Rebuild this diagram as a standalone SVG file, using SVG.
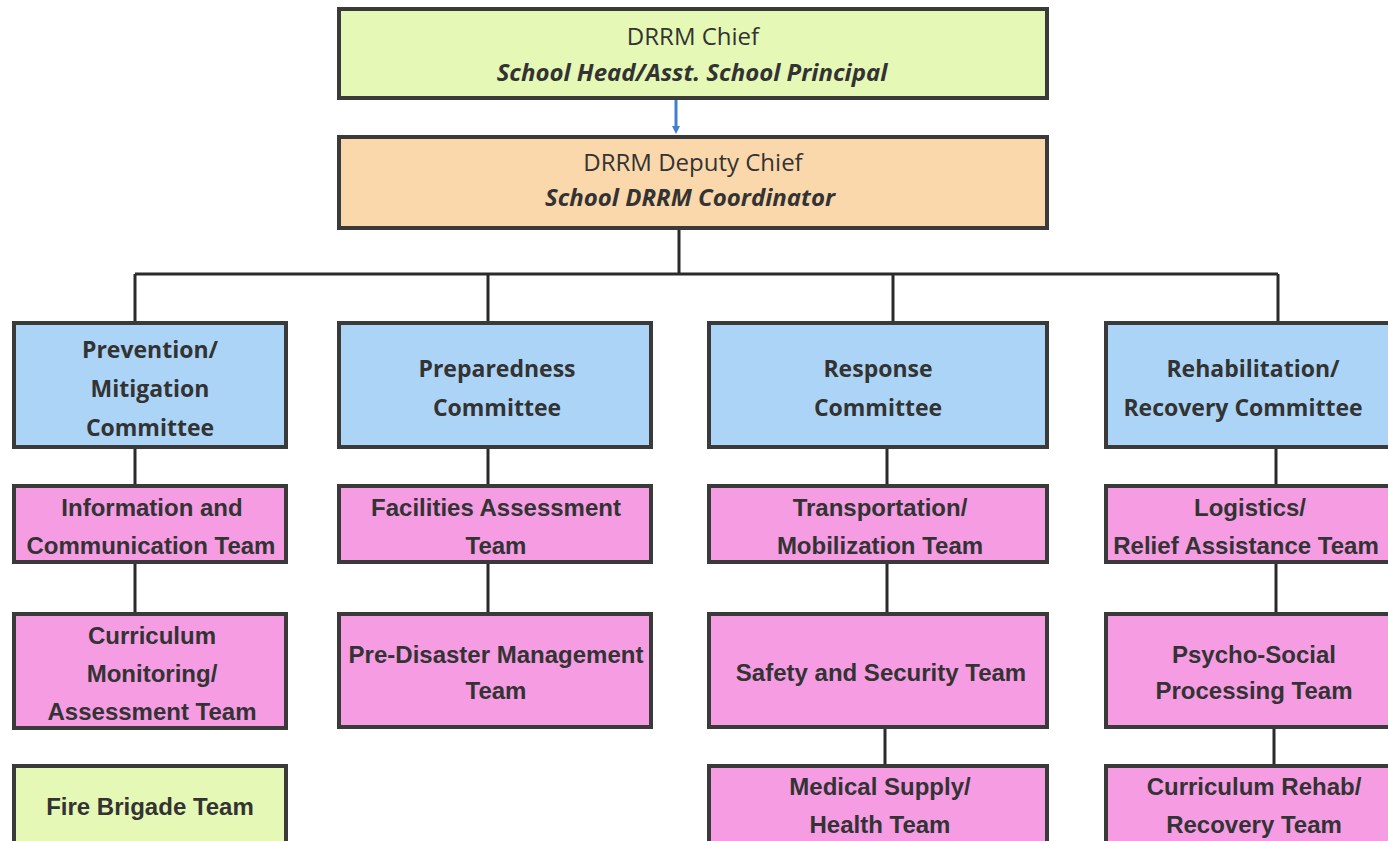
<svg xmlns="http://www.w3.org/2000/svg" width="1388" height="841" viewBox="0 0 1388 841">
<style>
.box{stroke:#3a3a3a;stroke-width:4}
.g{fill:#e5f8b6}.p{fill:#fbd8ab}.b{fill:#acd4f6}.k{fill:#f59ce3}
.c{font-family:"Open Sans","Liberation Sans",sans-serif;fill:#333;text-anchor:middle;font-size:24px}
.cb{font-family:"Open Sans","Liberation Sans",sans-serif;fill:#333;text-anchor:middle;font-size:23px;font-weight:bold}
.cbi{font-family:"Open Sans","Liberation Sans",sans-serif;fill:#333;text-anchor:middle;font-size:24px;font-weight:bold;font-style:italic}
.a{font-family:"Liberation Sans",Arial,sans-serif;fill:#333;text-anchor:middle;font-size:24px;font-weight:bold}
.ln{stroke:#2a2a2a;stroke-width:3;fill:none}
</style>
<defs>
<marker id="ah" markerWidth="8" markerHeight="8" refX="4" refY="4" orient="auto" markerUnits="userSpaceOnUse"><path d="M0,0 L8,4 L0,8 z" fill="#3f7fd0"/></marker>
</defs>
<rect width="1388" height="841" fill="#ffffff"/>
<g id="connectors">
<line x1="676" y1="99" x2="676" y2="130" stroke="#3f7fd0" stroke-width="3" marker-end="url(#ah)"/>
<path class="ln" d="M679,229 V274 M135,274 H1278 M135,274 V322 M488,274 V322 M893,274 V322 M1278,274 V322"/>
<path class="ln" d="M135,447 V485 M135,562 V613"/>
<path class="ln" d="M488,447 V485 M488,562 V613"/>
<path class="ln" d="M887,447 V485 M887,562 V613 M885,728 V765"/>
<path class="ln" d="M1276,447 V485 M1276,562 V613 M1274,728 V765"/>
</g>
<g id="chief"><rect class="box g" x="339" y="9" width="708" height="89"/>
<text class="c" x="693" y="45">DRRM Chief</text>
<text class="cbi" x="692" y="81">School Head/Asst. School Principal</text></g>
<g id="deputy"><rect class="box p" x="339" y="137" width="708" height="91"/>
<text class="c" x="693" y="171">DRRM Deputy Chief</text>
<text class="cbi" x="690" y="206">School DRRM Coordinator</text></g>
<g id="prevention"><rect class="box b" x="14" y="323" width="272" height="124"/>
<text class="cb" x="150" y="358">Prevention/</text>
<text class="cb" x="150" y="397">Mitigation</text>
<text class="cb" x="150" y="436">Committee</text></g>
<g id="preparedness"><rect class="box b" x="339" y="323" width="312" height="124"/>
<text class="cb" x="497" y="377">Preparedness</text>
<text class="cb" x="497" y="416">Committee</text></g>
<g id="response"><rect class="box b" x="709" y="323" width="338" height="124"/>
<text class="cb" x="878" y="377">Response</text>
<text class="cb" x="878" y="416">Committee</text></g>
<g id="rehab"><rect class="box b" x="1106" y="323" width="290" height="124"/>
<text class="cb" x="1253" y="377">Rehabilitation/</text>
<text class="cb" x="1243" y="416">Recovery Committee</text></g>
<g id="info"><rect class="box k" x="14" y="486" width="272" height="76"/>
<text class="a" x="152" y="516">Information and</text>
<text class="a" x="151" y="554">Communication Team</text></g>
<g id="facilities"><rect class="box k" x="339" y="486" width="312" height="76"/>
<text class="a" x="496" y="516">Facilities Assessment</text>
<text class="a" x="496" y="554">Team</text></g>
<g id="transport"><rect class="box k" x="709" y="486" width="338" height="76"/>
<text class="a" x="880" y="516">Transportation/</text>
<text class="a" x="880" y="554">Mobilization Team</text></g>
<g id="logistics"><rect class="box k" x="1106" y="486" width="290" height="76"/>
<text class="a" x="1250" y="516">Logistics/</text>
<text class="a" x="1246" y="554">Relief Assistance Team</text></g>
<g id="curriculum"><rect class="box k" x="14" y="614" width="272" height="114"/>
<text class="a" x="152" y="644">Curriculum</text>
<text class="a" x="152" y="682">Monitoring/</text>
<text class="a" x="152" y="720">Assessment Team</text></g>
<g id="predisaster"><rect class="box k" x="339" y="614" width="312" height="113"/>
<text class="a" x="496" y="663">Pre-Disaster Management</text>
<text class="a" x="496" y="699">Team</text></g>
<g id="safety"><rect class="box k" x="709" y="614" width="338" height="113"/>
<text class="a" x="881" y="681">Safety and Security Team</text></g>
<g id="psycho"><rect class="box k" x="1106" y="614" width="290" height="113"/>
<text class="a" x="1254" y="663">Psycho-Social</text>
<text class="a" x="1254" y="699">Processing Team</text></g>
<g id="fire"><rect class="box g" x="14" y="766" width="272" height="90"/>
<text class="a" x="150" y="815">Fire Brigade Team</text></g>
<g id="medical"><rect class="box k" x="709" y="766" width="338" height="90"/>
<text class="a" x="880" y="795">Medical Supply/</text>
<text class="a" x="880" y="833">Health Team</text></g>
<g id="currrehab"><rect class="box k" x="1106" y="766" width="290" height="90"/>
<text class="a" x="1254" y="795">Curriculum Rehab/</text>
<text class="a" x="1254" y="833">Recovery Team</text></g>
</svg>
